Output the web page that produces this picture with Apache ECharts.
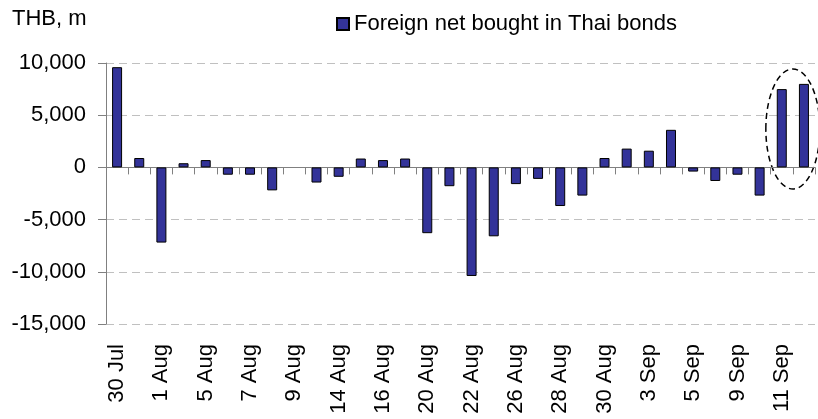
<!DOCTYPE html>
<html>
<head>
<meta charset="utf-8">
<script src="https://cdn.jsdelivr.net/npm/echarts@6/dist/echarts.min.js"></script>
<style>
  html, body { margin: 0; padding: 0; background: #fff; }
  #chart { width: 818px; height: 419px; }
</style>
</head>
<body>
<div id="chart"></div>
<script>
var dates = ['30 Jul', '31 Jul', '1 Aug', '2 Aug', '5 Aug', '6 Aug', '7 Aug', '8 Aug',
  '9 Aug', '10 Aug', '14 Aug', '15 Aug', '16 Aug', '17 Aug', '20 Aug', '21 Aug',
  '22 Aug', '23 Aug', '26 Aug', '27 Aug', '28 Aug', '29 Aug', '30 Aug', '31 Aug',
  '3 Sep', '4 Sep', '5 Sep', '6 Sep', '9 Sep', '10 Sep', '11 Sep', '12 Sep'];
// 9 Aug has no bar in the source
var netBought = [9600, 900, -7200, 400, 700, -700, -700, -2200,
  null, -1450, -900, 850, 700, 850, -6300, -1800,
  -10400, -6600, -1600, -1100, -3700, -2700, 900, 1800,
  1600, 3600, -400, -1300, -700, -2700, 7500, 8000];
var yTicks = { min: -15000, max: 10000, step: 5000 };
var seriesName = 'Foreign net bought in Thai bonds';
var unitLabel = 'THB, m';

var font = 'Liberation Sans, Arial, sans-serif';
var chart = echarts.init(document.getElementById('chart'));

chart.setOption({
  animation: false,
  backgroundColor: '#fff',
  textStyle: { fontFamily: font },
  title: {
    text: unitLabel, left: 7, top: 3,
    textStyle: { fontSize: 22, fontWeight: 'normal', color: '#000', fontFamily: font }
  },
  legend: {
    data: [{ name: seriesName, icon: 'rect' }], left: 331, top: 8,
    itemWidth: 12, itemHeight: 12, itemGap: 6,
    textStyle: { fontSize: 22, color: '#000', fontFamily: font }
  },
  grid: { left: 106, right: 3, top: 63, bottom: 95 },
  xAxis: [{
    type: 'category', data: dates, position: 'bottom',
    axisLine: { show: false, onZero: false }, axisTick: { show: false },
    axisLabel: { interval: 1, rotate: 90, margin: 20, fontSize: 22, color: '#000', fontFamily: font }
  }, {
    type: 'category', data: dates, position: 'bottom',
    axisLine: { onZero: true, lineStyle: { color: '#808080', width: 1 } },
    axisTick: { show: true, interval: 0, inside: false, length: 7, lineStyle: { color: '#808080' } },
    axisLabel: { show: false }
  }],
  yAxis: {
    type: 'value', min: yTicks.min, max: yTicks.max, interval: yTicks.step,
    axisLine: { show: true, lineStyle: { color: '#808080' } },
    axisTick: { show: true, length: 8, lineStyle: { color: '#808080' } },
    axisLabel: {
      margin: 20, fontSize: 22, color: '#000', fontFamily: font,
      formatter: function (v) { return v.toLocaleString('en-US'); }
    },
    splitLine: { lineStyle: { color: '#c0c0c0', type: [8, 5] } }
  },
  series: [{
    name: seriesName, type: 'bar', xAxisIndex: 0, data: netBought,
    barWidth: 10,
    itemStyle: { color: '#333399', borderColor: '#000', borderWidth: 1 }
  }]
});

// dashed ellipse highlighting the last two days
var lastA = dates.length - 2, lastB = dates.length - 1;
var pA = chart.convertToPixel({ xAxisIndex: 0, yAxisIndex: 0 }, [lastA, 0]);
var pB = chart.convertToPixel({ xAxisIndex: 0, yAxisIndex: 0 }, [lastB, 0]);
var cx = (pA[0] + pB[0]) / 2;
chart.setOption({
  graphic: [{
    type: 'ellipse',
    shape: { cx: cx, cy: 129, rx: 27, ry: 60 },
    style: { fill: 'none', stroke: '#000', lineWidth: 1.5, lineDash: [6, 4] }
  }]
});
</script>
</body>
</html>
